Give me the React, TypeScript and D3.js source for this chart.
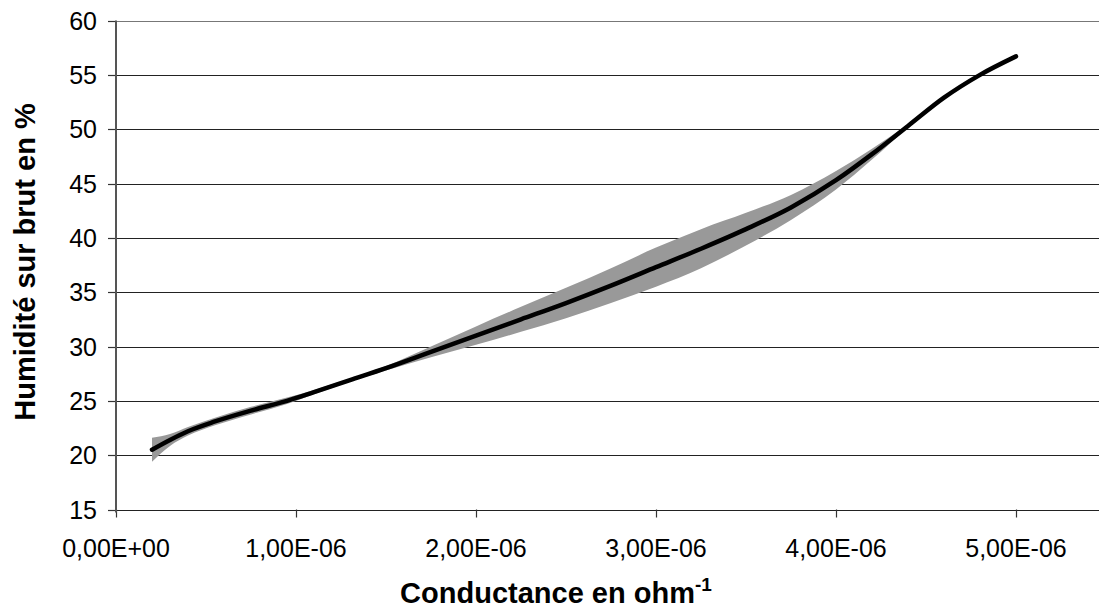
import React from "react";
import * as d3 from "d3";

// Conductance (×1e-6 ohm^-1) and central curve (humidité %)
const conductance = [0.2, 0.3, 0.4, 0.55, 0.75, 0.95, 1.1, 1.3, 1.5, 1.75, 2.0, 2.25, 2.5, 2.75, 3.0, 3.25, 3.5, 3.75, 4.0, 4.2, 4.4, 4.6, 4.8, 5.0];
const humidity = [20.5, 21.4, 22.2, 23.1, 24.1, 25.0, 25.8, 26.9, 28.0, 29.5, 31.0, 32.5, 34.0, 35.6, 37.3, 39.0, 40.8, 42.8, 45.3, 47.7, 50.3, 52.9, 55.0, 56.7];
// half-width of grey dispersion band (%)
const bandHalf = [1.1, 0.55, 0.4, 0.35, 0.35, 0.3, 0.2, 0.15, 0.2, 0.5, 0.85, 1.15, 1.4, 1.6, 1.8, 1.8, 1.5, 1.15, 0.85, 0.5, 0.15, 0.05, 0.05, 0.05];

const xTickValues = [0, 1e-6, 2e-6, 3e-6, 4e-6, 5e-6];
const xTickLabels = ["0,00E+00", "1,00E-06", "2,00E-06", "3,00E-06", "4,00E-06", "5,00E-06"];
const yTickValues = [15, 20, 25, 30, 35, 40, 45, 50, 55, 60];

const W = 1099;
const H = 615;
const FONT = "'Liberation Sans', Arial, sans-serif";

export default function App() {
  const x = d3.scaleLinear().domain([0, 6e-6]).range([116, 1196]);
  const y = d3.scaleLinear().domain([15, 60]).range([509.5, 20.5]);

  const pts = conductance.map((c, i) => ({ c: c * 1e-6, h: humidity[i], w: bandHalf[i] }));

  const area = d3
    .area<{ c: number; h: number; w: number }>()
    .x((d) => x(d.c))
    .y0((d) => y(d.h - d.w))
    .y1((d) => y(d.h + d.w))
    .curve(d3.curveMonotoneX);

  const line = d3
    .line<{ c: number; h: number; w: number }>()
    .x((d) => x(d.c))
    .y((d) => y(d.h))
    .curve(d3.curveMonotoneX);

  const x0 = x(0);
  const yBottom = y(15);

  return (
    <svg
      width={W}
      height={H}
      style={{ position: "absolute", left: 0, top: 0, background: "#fff" }}
      fontFamily={FONT}
    >
      <rect x={0} y={0} width={W} height={H} fill="#fff" />
      {/* gridlines */}
      {yTickValues.map((v) => (
        <line
          key={"g" + v}
          x1={x0}
          x2={W}
          y1={Math.round(y(v)) + 0.5}
          y2={Math.round(y(v)) + 0.5}
          stroke={v === 60 ? "#777" : "#222"}
          strokeWidth={1.2}
        />
      ))}
      {/* y ticks */}
      {yTickValues.map((v) => (
        <line
          key={"yt" + v}
          x1={108}
          x2={x0}
          y1={Math.round(y(v)) + 0.5}
          y2={Math.round(y(v)) + 0.5}
          stroke="#333"
          strokeWidth={1.2}
        />
      ))}
      {/* x ticks */}
      {xTickValues.map((v) => (
        <line
          key={"xt" + v}
          x1={Math.round(x(v)) + 0.5}
          x2={Math.round(x(v)) + 0.5}
          y1={yBottom}
          y2={yBottom + 8}
          stroke="#333"
          strokeWidth={1.2}
        />
      ))}
      {/* y axis line */}
      <line x1={x0} x2={x0} y1={y(60)} y2={yBottom + 3} stroke="#555" strokeWidth={2} />

      {/* band */}
      <path d={area(pts) || ""} fill="#999" />
      {/* central curve */}
      <path
        d={line(pts) || ""}
        fill="none"
        stroke="#000"
        strokeWidth={4.5}
        strokeLinecap="round"
        strokeLinejoin="round"
      />

      {/* y tick labels */}
      {yTickValues.map((v) => (
        <text
          key={"yl" + v}
          x={97}
          y={y(v) + 9}
          textAnchor="end"
          fontSize={25}
          fill="#000"
        >
          {v}
        </text>
      ))}
      {/* x tick labels */}
      {xTickValues.map((v, i) => (
        <text
          key={"xl" + v}
          x={x(v)}
          y={557}
          textAnchor="middle"
          fontSize={25}
          fill="#000"
        >
          {xTickLabels[i]}
        </text>
      ))}

      {/* axis titles */}
      <text
        transform={`translate(35,262) rotate(-90)`}
        textAnchor="middle"
        fontSize={29}
        fontWeight="bold"
        fill="#000"
      >
        Humidité sur brut en %
      </text>
      <text x={556} y={603} textAnchor="middle" fontSize={29} fontWeight="bold" fill="#000">
        Conductance en ohm
        <tspan fontSize={19} dy={-12}>
          -1
        </tspan>
      </text>
    </svg>
  );
}
